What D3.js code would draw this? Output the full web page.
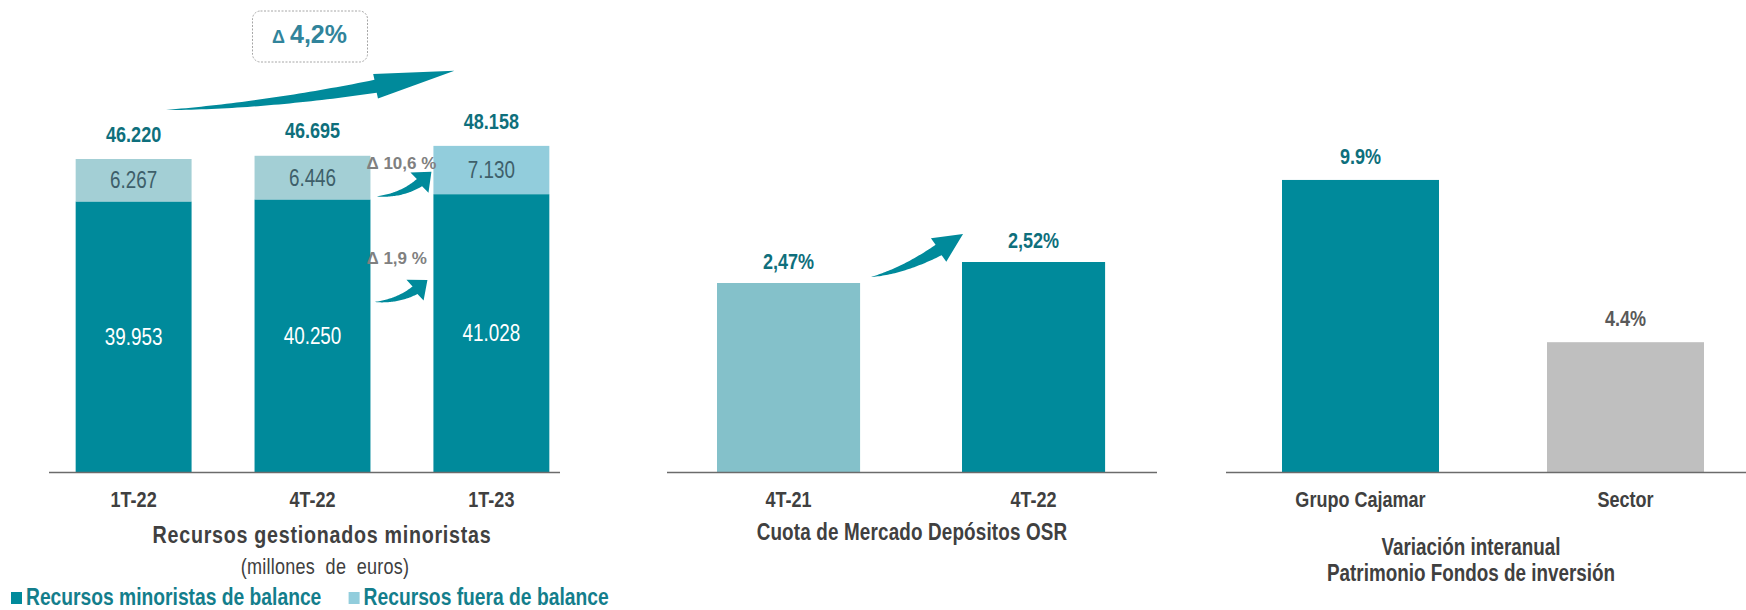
<!DOCTYPE html>
<html>
<head>
<meta charset="utf-8">
<script src="https://cdn.jsdelivr.net/npm/d3@7"></script>
<style>
  body { margin: 0; background: #fff; }
  svg { display: block; }
  text { font-family: 'Liberation Sans', Arial, sans-serif; }
</style>
</head>
<body>
<svg id="chart" width="1746" height="610"></svg>
<script>
// datos
const quarters = ["1T-22", "4T-22", "1T-23"];
const enBalance = [39953, 40250, 41028];
const fueraBalance = [6267, 6446, 7130];
const totalRecursos = [46220, 46695, 48158];

const cuotaPeriods = ["4T-21", "4T-22"];
const cuotaDepositos = [2.47, 2.52];

const fondosGroups = ["Grupo Cajamar", "Sector"];
const fondosVariacion = [9.9, 4.4];

const legendLabels = ["Recursos minoristas de balance", "Recursos fuera de balance"];

// estilos
const TEAL = "#008a9b";
const TEAL_TXT = "#0e6f7c";
const DARK_TXT = "#404040";
const fueraColors = ["#a3cfd5", "#a3cfd5", "#92cddc"];
const cuotaColors = ["#84c1ca", TEAL];
const fondosColors = [TEAL, "#bfbfbf"];
const fondosTxt = [TEAL_TXT, "#595959"];
const legendColors = [TEAL, "#92cddc"];
const NARROW = 0.82; // Arial Narrow ~ Arial comprimida

const es = d3.formatLocale({decimal: ",", thousands: ".", grouping: [3], currency: ["", "€"]});
const fmtMiles = es.format(",d");
const fmtPct2 = es.format(".2f");
const fmtPct1 = es.format(".1f");

const svg = d3.select("#chart");
const base = 472;

// comprime horizontalmente los textos alrededor de su x
function narrow(sel) {
  sel.each(function() {
    const t = d3.select(this);
    const x = +t.attr("x") || 0;
    t.attr("x", 0).attr("transform", `translate(${x},0) scale(${NARROW},1)`);
  });
  return sel;
}

// flecha curva y afilada sobre una bezier cuadratica
function arrow(T, P, a, b, headLen, headW, shaftW) {
  const C = [T[0] + a * (P[0] - T[0]), T[1] + b * (P[1] - T[1])];
  const bez = t => [
    (1 - t) * (1 - t) * T[0] + 2 * (1 - t) * t * C[0] + t * t * P[0],
    (1 - t) * (1 - t) * T[1] + 2 * (1 - t) * t * C[1] + t * t * P[1]
  ];
  const der = t => [
    2 * (1 - t) * (C[0] - T[0]) + 2 * t * (P[0] - C[0]),
    2 * (1 - t) * (C[1] - T[1]) + 2 * t * (P[1] - C[1])
  ];
  let th = 1;
  for (let t = 1; t > 0; t -= 0.002) {
    const p = bez(t);
    if (Math.hypot(p[0] - P[0], p[1] - P[1]) >= headLen) { th = t; break; }
  }
  const N = 40, left = [], right = [];
  for (let i = 0; i <= N; i++) {
    const t = th * i / N, p = bez(t), d = der(t);
    const len = Math.hypot(d[0], d[1]);
    const n = [-d[1] / len, d[0] / len];
    const w = shaftW / 2 * Math.pow(i / N, 0.9);
    left.push([p[0] + n[0] * w, p[1] + n[1] * w]);
    right.push([p[0] - n[0] * w, p[1] - n[1] * w]);
  }
  const B = bez(th);
  const ul = Math.hypot(P[0] - B[0], P[1] - B[1]);
  const u = [(P[0] - B[0]) / ul, (P[1] - B[1]) / ul];
  const n = [-u[1], u[0]];
  const path = d3.path();
  path.moveTo(T[0], T[1]);
  left.forEach(p => path.lineTo(p[0], p[1]));
  path.lineTo(B[0] + n[0] * headW / 2, B[1] + n[1] * headW / 2);
  path.lineTo(P[0], P[1]);
  path.lineTo(B[0] - n[0] * headW / 2, B[1] - n[1] * headW / 2);
  right.reverse().forEach(p => path.lineTo(p[0], p[1]));
  path.closePath();
  return path.toString();
}

function categoryAxis(g, scale) {
  g.attr("transform", `translate(0,${base})`)
    .call(d3.axisBottom(scale).tickSize(0).tickPadding(19))
    .call(s => s.select(".domain").remove())
    .attr("font-family", null).attr("font-size", null);
  g.selectAll("text")
    .attr("font-size", 22).attr("font-weight", "bold").attr("fill", DARK_TXT)
    .call(narrow);
}

function baseline(x0, x1) {
  svg.append("line")
    .attr("x1", x0).attr("x2", x1).attr("y1", base + 0.5).attr("y2", base + 0.5)
    .attr("stroke", "#6b6b6b").attr("stroke-width", 1.5);
}

function title(x, y, txt, size, bold, spacing) {
  return svg.append("text")
    .attr("x", x).attr("y", y).attr("dy", "0.35em")
    .attr("text-anchor", "middle").attr("font-size", size)
    .attr("font-weight", bold ? "bold" : null)
    .attr("letter-spacing", spacing || null)
    .attr("fill", DARK_TXT)
    .style("white-space", "pre")
    .text(txt)
    .call(narrow);
}

// ---------- panel 1: recursos gestionados ----------
const x1 = d3.scaleBand().domain(quarters).range([44, 581]).paddingInner(0.352).paddingOuter(0.177);
const y1 = d3.scaleLinear().domain([0, 50000]).range([base, base - 338.6]);

const rows = quarters.map((q, i) => ({q, i, bal: enBalance[i], fuera: fueraBalance[i]}));
const layers = d3.stack().keys(["bal", "fuera"])(rows);

const g1 = svg.append("g");
g1.selectAll("g.layer").data(layers).join("g").attr("class", "layer")
  .selectAll("rect").data(d => d.map(p => ({p, key: d.key})))
  .join("rect")
  .attr("x", d => x1(d.p.data.q))
  .attr("width", x1.bandwidth())
  .attr("y", d => y1(d.p[1]))
  .attr("height", d => y1(d.p[0]) - y1(d.p[1]))
  .attr("fill", d => d.key === "bal" ? TEAL : fueraColors[d.p.data.i]);

g1.selectAll("g.layer").selectAll("text.seg")
  .data(d => d.map(p => ({p, key: d.key})))
  .join("text").attr("class", "seg")
  .attr("x", d => x1(d.p.data.q) + x1.bandwidth() / 2)
  .attr("y", d => (y1(d.p[0]) + y1(d.p[1])) / 2)
  .attr("dy", "0.35em")
  .attr("text-anchor", "middle")
  .attr("font-size", 23)
  .attr("fill", d => d.key === "bal" ? "#ffffff" : "#3e5f6a")
  .text(d => fmtMiles(d.p.data[d.key]))
  .call(narrow);

g1.selectAll("text.total").data(totalRecursos).join("text").attr("class", "total")
  .attr("x", (d, i) => x1(quarters[i]) + x1.bandwidth() / 2)
  .attr("y", d => y1(d) - 25)
  .attr("dy", "0.35em")
  .attr("text-anchor", "middle")
  .attr("font-size", 22).attr("font-weight", "bold")
  .attr("fill", TEAL_TXT)
  .text(d => fmtMiles(d))
  .call(narrow);

baseline(49, 560);
svg.append("g").call(g => categoryAxis(g, x1));

title(322, 535, "Recursos gestionados minoristas", 24, true, 0.9);
title(325, 566, "(millones  de  euros)", 22, false, 0.3);

// variaciones
const bw1 = x1.bandwidth();
const varTotal = (totalRecursos[2] / totalRecursos[0] - 1) * 100;
const varFuera = (fueraBalance[2] / fueraBalance[1] - 1) * 100;
const varBal = (enBalance[2] / enBalance[1] - 1) * 100;

const boxCx = x1(quarters[1]) + bw1 / 2 - 3;
svg.append("rect")
  .attr("x", boxCx - 57).attr("y", 11).attr("width", 115).attr("height", 51)
  .attr("rx", 8).attr("fill", "none")
  .attr("stroke", "#a6a6a6").attr("stroke-width", 1).attr("stroke-dasharray", "2,1.5");
const boxTxt = svg.append("text")
  .attr("x", boxCx).attr("y", 37).attr("dy", "0.35em")
  .attr("text-anchor", "middle")
  .attr("font-weight", "bold").attr("fill", "#31849b");
boxTxt.append("tspan").attr("font-size", 18).text("\u0394 ");
boxTxt.append("tspan").attr("font-size", 25).text(fmtPct1(varTotal) + "%");

const bigT = [x1(quarters[0]) + bw1 * 0.78, y1(totalRecursos[0]) - 49];
const bigP = [x1(quarters[2]) + 21, y1(totalRecursos[2]) - 75];
svg.append("path").attr("d", arrow(bigT, bigP, 0.465, 0.154, 80, 25, 13)).attr("fill", TEAL);

const smallArrows = [
  {T: [x1(quarters[1]) + bw1 + 6, y1(enBalance[1]) - 3], P: [x1(quarters[2]) - 2, y1(totalRecursos[2]) + 26],
   label: "\u0394 " + fmtPct1(varFuera) + " %", ly: y1(totalRecursos[1]) + 7},
  {T: [x1(quarters[1]) + bw1 + 4, base - 170], P: [x1(quarters[2]) - 6, base - 192],
   label: "\u0394 " + fmtPct1(varBal) + " %", ly: base - 214}
];
smallArrows.forEach(s => {
  svg.append("path").attr("d", arrow(s.T, s.P, 0.61, 0.04, 16, 27, 9)).attr("fill", TEAL);
  svg.append("text")
    .attr("x", x1(quarters[1]) + bw1 - 4).attr("y", s.ly).attr("dy", "0.35em")
    .attr("font-size", 17).attr("font-weight", "bold").attr("fill", "#808080")
    .style("white-space", "pre")
    .text(s.label);
});

// leyenda
const leg = svg.append("g");
let lx = 11;
legendLabels.forEach((l, i) => {
  leg.append("rect").attr("x", lx).attr("y", 592).attr("width", 11).attr("height", 12).attr("fill", legendColors[i]);
  const t = leg.append("text").attr("x", lx + 15).attr("y", 597).attr("dy", "0.35em")
    .attr("font-size", 23.5).attr("font-weight", "bold").attr("fill", "#137e8c").text(l);
  const w = t.node().getComputedTextLength() * NARROW;
  t.call(narrow);
  lx = lx + 15 + w + 27;
});

// ---------- panel 2: cuota de mercado ----------
const x2 = d3.scaleBand().domain(cuotaPeriods).range([643.5, 1178.6]).paddingInner(0.416).paddingOuter(0.3);
const y2 = d3.scaleLinear().domain([2.02, 2.55]).range([base, base - 0.53 * 420]);

const g2 = svg.append("g");
g2.selectAll("rect").data(cuotaDepositos).join("rect")
  .attr("x", (d, i) => x2(cuotaPeriods[i]))
  .attr("width", x2.bandwidth())
  .attr("y", d => y2(d))
  .attr("height", d => base - y2(d))
  .attr("fill", (d, i) => cuotaColors[i]);
g2.selectAll("text").data(cuotaDepositos).join("text")
  .attr("x", (d, i) => x2(cuotaPeriods[i]) + x2.bandwidth() / 2)
  .attr("y", d => y2(d) - 22).attr("dy", "0.35em")
  .attr("text-anchor", "middle").attr("font-size", 22).attr("font-weight", "bold")
  .attr("fill", TEAL_TXT)
  .text(d => fmtPct2(d) + "%")
  .call(narrow);

baseline(667, 1157);
svg.append("g").call(g => categoryAxis(g, x2));
title(912, 532, "Cuota de Mercado Depósitos OSR", 23, true, 0.2);

const bw2 = x2.bandwidth();
svg.append("path")
  .attr("d", arrow([x2(cuotaPeriods[0]) + bw2 + 11, y2(cuotaDepositos[0]) - 6],
                   [x2(cuotaPeriods[1]) + 1, y2(cuotaDepositos[1]) - 28], 0.47, 0.19, 29, 28, 12))
  .attr("fill", TEAL);

// ---------- panel 3: fondos de inversion ----------
const x3 = d3.scaleBand().domain(fondosGroups).range([1202.5, 1783.5]).paddingInner(0.4075).paddingOuter(0.3);
const y3 = d3.scaleLinear().domain([0, 10]).range([base, base - 295]);

const g3 = svg.append("g");
g3.selectAll("rect").data(fondosVariacion).join("rect")
  .attr("x", (d, i) => x3(fondosGroups[i]))
  .attr("width", x3.bandwidth())
  .attr("y", d => y3(d))
  .attr("height", d => base - y3(d))
  .attr("fill", (d, i) => fondosColors[i]);
g3.selectAll("text").data(fondosVariacion).join("text")
  .attr("x", (d, i) => x3(fondosGroups[i]) + x3.bandwidth() / 2)
  .attr("y", d => y3(d) - 24).attr("dy", "0.35em")
  .attr("text-anchor", "middle").attr("font-size", 22).attr("font-weight", "bold")
  .attr("fill", (d, i) => fondosTxt[i])
  .text(d => d3.format(".1f")(d) + "%")
  .call(narrow);

baseline(1226, 1746);
svg.append("g").call(g => categoryAxis(g, x3));
["Variación interanual", "Patrimonio Fondos de inversión"].forEach((t, i) => {
  title(1471, 547 + i * 26, t, 23, true);
});
</script>
</body>
</html>
